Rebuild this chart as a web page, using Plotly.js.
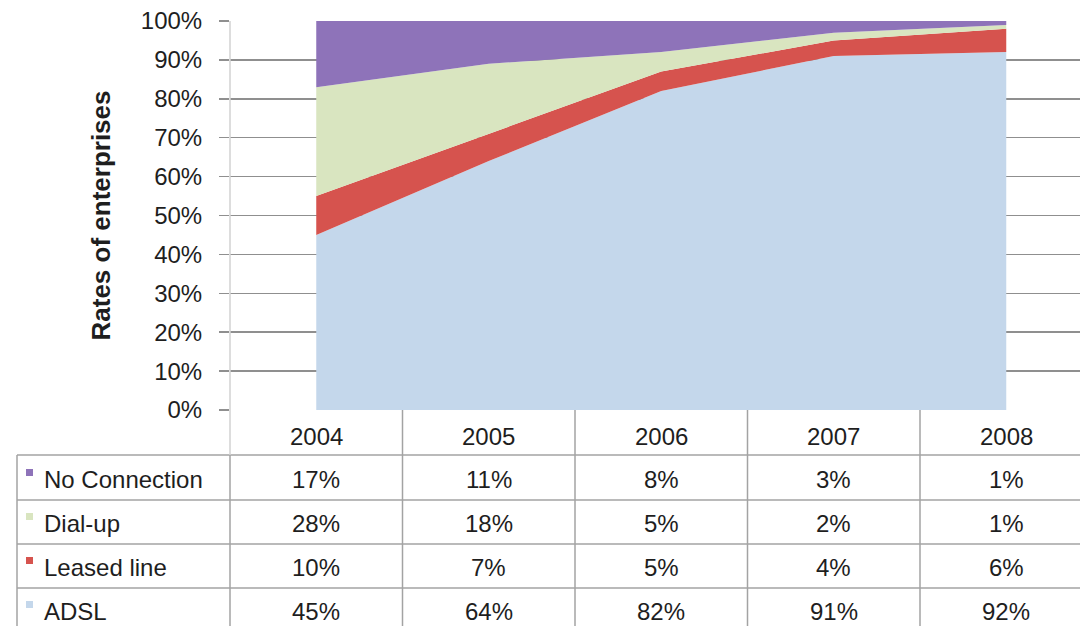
<!DOCTYPE html>
<html>
<head>
<meta charset="utf-8">
<script src="https://cdn.plot.ly/plotly-3.0.1.min.js"></script>
<style>html,body{margin:0;padding:0;background:#fff;}#chart{width:1080px;height:626px;}</style>
</head>
<body>
<div id="chart"></div>
<script>
// ---- data ----
const years = ['2004', '2005', '2006', '2007', '2008'];
const seriesNames = ['No Connection', 'Dial-up', 'Leased line', 'ADSL'];
const noConnection = [17, 11, 8, 3, 1];
const dialUp = [28, 18, 5, 2, 1];
const leasedLine = [10, 7, 5, 4, 6];
const adsl = [45, 64, 82, 91, 92];
const yTicks = [0, 10, 20, 30, 40, 50, 60, 70, 80, 90, 100];

// ---- styles ----
const colors = {
  'No Connection': '#8e73b9',
  'Dial-up': '#d9e5c0',
  'Leased line': '#d6534e',
  'ADSL': '#c4d7eb'
};
const valuesByName = {
  'No Connection': noConnection,
  'Dial-up': dialUp,
  'Leased line': leasedLine,
  'ADSL': adsl
};
const FONT = 'Liberation Sans, Arial, sans-serif';
const TXT = '#1e1e1e';
const FS = 24;
const W = 1080, H = 626;
const L = 230, R = 0, T = 21, B = 216;
const plotH = H - T - B;
const plotW = W - L - R;
const py = p => (H - B - p) / plotH;   // pixel y -> paper y
const px = p => (p - L) / plotW;       // pixel x -> paper x

// stack bottom -> top
const order = ['ADSL', 'Leased line', 'Dial-up', 'No Connection'];
const traces = order.map(name => ({
  type: 'scatter',
  mode: 'lines',
  name: name,
  x: years,
  y: valuesByName[name],
  stackgroup: 'one',
  line: {width: 0, color: colors[name]},
  fillcolor: colors[name],
  showlegend: false,
  hoverinfo: 'skip'
}));

// ---- table ----
const shapes = [];
const annotations = [];
const gridC = '#a3a3a3';
const rowLines = [455, 500, 544, 588];
rowLines.forEach(y => shapes.push({type: 'line', xref: 'paper', yref: 'paper',
  x0: px(17), x1: px(W), y0: py(y), y1: py(y), line: {color: gridC, width: 1.5}}));
// column separators (between categories)
[0.5, 1.5, 2.5, 3.5].forEach(c => shapes.push({type: 'line', xref: 'x', yref: 'paper',
  x0: c, x1: c, y0: py(410), y1: py(H), line: {color: gridC, width: 1.5}}));
// axis line / left border of first data column
shapes.push({type: 'line', xref: 'paper', yref: 'paper', x0: 0, x1: 0, y0: 1, y1: py(455),
  line: {color: '#d2d2d2', width: 1.5}});
shapes.push({type: 'line', xref: 'paper', yref: 'paper', x0: 0, x1: 0, y0: py(455), y1: py(H),
  line: {color: gridC, width: 1.5}});
// left border of label column
shapes.push({type: 'line', xref: 'paper', yref: 'paper', x0: px(17), x1: px(17), y0: py(455), y1: py(H),
  line: {color: gridC, width: 1.5}});

// header years (category index positions on the x axis)
years.forEach((yr, j) => annotations.push({xref: 'x', yref: 'paper', x: j, y: py(437),
  text: yr, showarrow: false, xanchor: 'center', yanchor: 'middle',
  font: {family: FONT, size: FS, color: TXT}}));

const rowCenters = [479, 523, 567, 611];
seriesNames.forEach((name, i) => {
  const yc = rowCenters[i];
  // legend key
  shapes.push({type: 'rect', xref: 'paper', yref: 'paper',
    x0: px(26), x1: px(33), y0: py(yc - 3), y1: py(yc - 10),
    fillcolor: colors[name], line: {width: 0}});
  annotations.push({xref: 'paper', yref: 'paper', x: px(42), y: py(yc),
    text: name, showarrow: false, xanchor: 'left', yanchor: 'middle',
    font: {family: FONT, size: FS, color: TXT}});
  valuesByName[name].forEach((v, j) => annotations.push({xref: 'x', yref: 'paper',
    x: j, y: py(yc), text: v + '%', showarrow: false,
    xanchor: 'center', yanchor: 'middle',
    font: {family: FONT, size: FS, color: TXT}}));
});

const layout = {
  width: W, height: H,
  margin: {l: L, r: R, t: T, b: B},
  paper_bgcolor: '#ffffff',
  plot_bgcolor: 'rgba(0,0,0,0)',
  showlegend: false,
  xaxis: {
    type: 'category',
    range: [-0.5, -0.5 + plotW / 172.5],
    showticklabels: false, showgrid: false, zeroline: false, showline: false,
    ticks: '', fixedrange: true
  },
  yaxis: {
    range: [0, 100],
    tickvals: yTicks,
    ticktext: yTicks.map(v => v + '%'),
    showgrid: true, gridcolor: '#8f8f8f', gridwidth: 1.5,
    zeroline: false, showline: false,
    ticks: 'outside', ticklen: 10, tickcolor: '#8f8f8f', tickwidth: 1.5,
    ticklabelstandoff: 12,
    tickfont: {family: FONT, size: FS, color: TXT},
    title: {text: 'Rates of enterprises', standoff: 22,
      font: {family: FONT, size: 26, color: TXT, weight: 'bold'}},
    layer: 'above traces',
    fixedrange: true
  },
  shapes: shapes,
  annotations: annotations
};

Plotly.newPlot('chart', traces, layout, {displayModeBar: false, staticPlot: true});
</script>
</body>
</html>
